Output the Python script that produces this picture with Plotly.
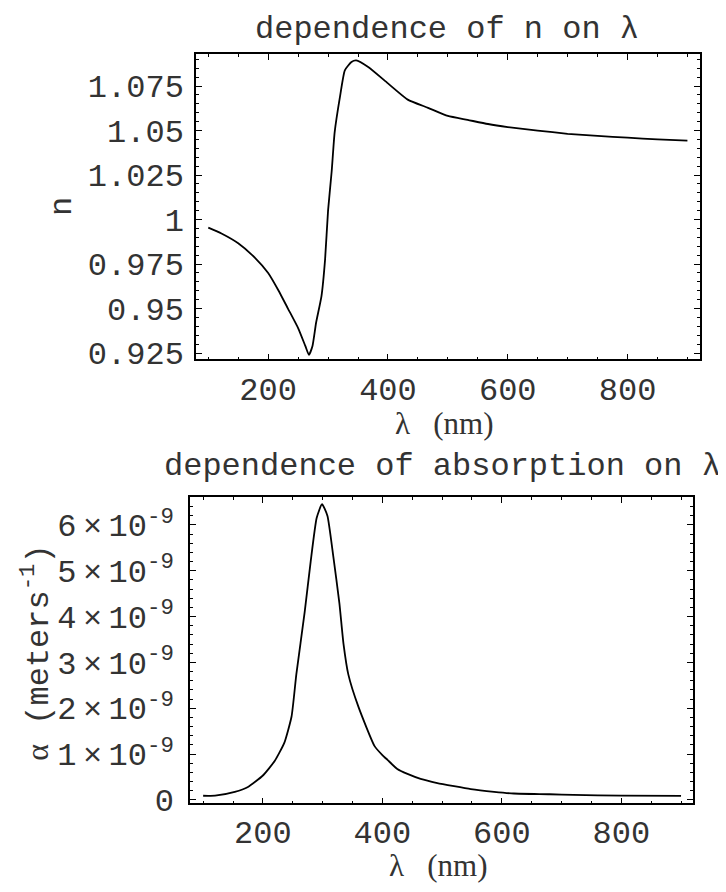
import plotly.graph_objects as go

W, H = 726, 892

# ---- data ----
# top panel: refractive index n versus wavelength (nm)
lam_n = [100, 122, 150, 178, 200, 217, 233, 250, 262, 268, 274, 280, 289, 295,
         300, 306, 311, 320, 328, 339, 347, 367, 400, 433, 467, 500, 533, 567,
         600, 650, 700, 750, 800, 850, 900]
n_vals = [0.9955, 0.9922, 0.9867, 0.9785, 0.9700, 0.9603, 0.9500, 0.9390, 0.9290,
          0.9240, 0.9290, 0.9420, 0.9570, 0.9775, 1.0050, 1.0270, 1.0490, 1.0692,
          1.0839, 1.0885, 1.0894, 1.0857, 1.0765, 1.0674, 1.0628, 1.0582, 1.0560,
          1.0537, 1.0520, 1.0500, 1.0482, 1.0470, 1.0460, 1.0450, 1.0443]

# bottom panel: absorption alpha (meters^-1) versus wavelength (nm), in units of 1e-9
lam_a = [100, 120, 153, 175, 200, 220, 236, 248, 256, 270, 280, 290, 299, 308,
         318, 328, 335, 343, 360, 387, 400, 409, 425, 442, 464, 492, 520, 548,
         587, 620, 680, 720, 800, 900]
alpha_e9 = [0.092, 0.095, 0.177, 0.284, 0.534, 0.855, 1.25, 1.82, 2.74, 4.10, 5.20,
            6.15, 6.45, 6.20, 5.30, 4.30, 3.40, 2.74, 2.03, 1.175, 0.98, 0.87, 0.675,
            0.568, 0.46, 0.37, 0.30, 0.235, 0.177, 0.141, 0.125, 0.11, 0.095, 0.09]
alpha_vals = [a * 1e-9 for a in alpha_e9]

x_tick_vals = [200, 400, 600, 800]
x_tick_text = ["200", "400", "600", "800"]
n_tick_vals = [0.925, 0.95, 0.975, 1.0, 1.025, 1.05, 1.075]
n_tick_text = ["0.925", "0.95", "0.975", "1", "1.025", "1.05", "1.075"]
a_tick_vals = [0, 1e-9, 2e-9, 3e-9, 4e-9, 5e-9, 6e-9]
a_tick_text = ["0"] + [f"{k}\u2009×\u200910<sup>-9</sup>" for k in range(1, 7)]

title_top = "dependence of n on λ"
title_bot = "dependence of absorption on λ"
xlabel = "λ   (nm)"
ylabel_top = "n"
ylabel_bot = ('<span style="font-family:Liberation Serif">α</span> '
              '(meters<sup>-1</sup>)')

MONO = "Liberation Mono"
SERIF = "Liberation Serif"
TXT = "#333"


def px(x):
    return x / W


def py(y):
    return 1 - y / H


fig = go.Figure()
fig.add_trace(go.Scatter(x=lam_n, y=n_vals, mode="lines",
                         line=dict(color="black", width=1.8, shape="spline",
                                   smoothing=0.5),
                         xaxis="x", yaxis="y", showlegend=False))
fig.add_trace(go.Scatter(x=lam_a, y=alpha_vals, mode="lines",
                         line=dict(color="black", width=1.8, shape="spline",
                                   smoothing=0.5),
                         xaxis="x2", yaxis="y2", showlegend=False))

common = dict(showline=True, linecolor="black", linewidth=1.5, mirror="allticks",
              ticks="inside", ticklen=6, tickwidth=1.2, tickcolor="black",
              showgrid=False, zeroline=False,
              tickfont=dict(family=MONO, size=32, color=TXT))

fig.update_layout(
    width=W, height=H, margin=dict(l=0, r=0, t=0, b=0),
    paper_bgcolor="white", plot_bgcolor="white", showlegend=False,
    xaxis=dict(domain=[px(188), px(692)], range=[79.5, 921], anchor="y",
               tickmode="array", tickvals=x_tick_vals, ticktext=x_tick_text,
               ticklabelstandoff=1,
               minor=dict(tickmode="linear", tick0=0, dtick=50, ticks="inside",
                          ticklen=3, tickcolor="black", tickwidth=1),
               **common),
    yaxis=dict(domain=[py(358.5), py(47)], range=[0.9215, 1.093], anchor="x",
               tickmode="array", tickvals=n_tick_vals, ticktext=n_tick_text,
               ticklabelstandoff=4,
               minor=dict(tickmode="linear", tick0=0.925, dtick=0.005, ticks="inside",
                          ticklen=3, tickcolor="black", tickwidth=1),
               **common),
    xaxis2=dict(domain=[px(182), px(685)], range=[78, 920], anchor="y2",
                tickmode="array", tickvals=x_tick_vals, ticktext=x_tick_text,
                ticklabelstandoff=0,
                minor=dict(tickmode="linear", tick0=0, dtick=50, ticks="inside",
                           ticklen=3, tickcolor="black", tickwidth=1),
                **common),
    yaxis2=dict(domain=[py(811.7), py(499)], range=[-0.073e-9, 6.609e-9], anchor="x2",
                tickmode="array", tickvals=a_tick_vals, ticktext=a_tick_text,
                ticklabelstandoff=8,
                minor=dict(tickmode="linear", tick0=0, dtick=0.2e-9, ticks="inside",
                           ticklen=3, tickcolor="black", tickwidth=1),
                **common),
)

ann = []
ann.append(dict(text=title_top, x=px(439), y=py(22), xref="paper", yref="paper",
                showarrow=False, xanchor="center", yanchor="middle",
                font=dict(family=MONO, size=32, color=TXT)))
ann.append(dict(text=title_bot, x=px(434), y=py(468), xref="paper", yref="paper",
                showarrow=False, xanchor="center", yanchor="middle",
                font=dict(family=MONO, size=32, color=TXT)))
ann.append(dict(text=xlabel, x=px(436), y=py(424), xref="paper", yref="paper",
                showarrow=False, xanchor="center", yanchor="middle",
                font=dict(family=SERIF, size=31, color=TXT)))
ann.append(dict(text=xlabel, x=px(430), y=py(875), xref="paper", yref="paper",
                showarrow=False, xanchor="center", yanchor="middle",
                font=dict(family=SERIF, size=31, color=TXT)))
ann.append(dict(text=ylabel_top, x=px(55), y=py(203), xref="paper", yref="paper",
                showarrow=False, xanchor="center", yanchor="middle", textangle=-90,
                font=dict(family=MONO, size=32, color=TXT)))
ann.append(dict(text=ylabel_bot, x=px(28), y=py(658), xref="paper", yref="paper",
                showarrow=False, xanchor="center", yanchor="middle", textangle=-90,
                font=dict(family=MONO, size=32, color=TXT)))
fig.update_layout(annotations=ann)

# small clipped fragments at the right edge of the reference
fig.add_shape(type="line", xref="paper", yref="paper", x0=px(719), x1=px(726),
              y0=py(455), y1=py(455), line=dict(color="#444", width=1.5))
fig.add_shape(type="line", xref="paper", yref="paper", x0=px(722), x1=px(726),
              y0=py(572), y1=py(572), line=dict(color="#444", width=1.5))

fig.write_html("out.html")
